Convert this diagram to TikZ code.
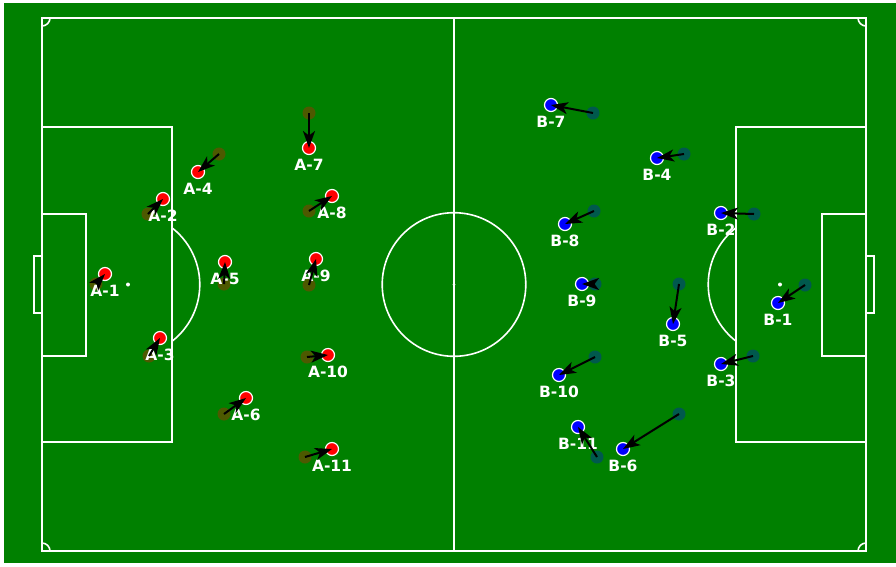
\documentclass[tikz,border=0pt]{standalone}
\usepackage{fontspec}
\setmainfont{DejaVu Sans}
\usetikzlibrary{positioning,arrows.meta}
\definecolor{cesped}{RGB}{0,128,0}

\begin{document}
\begin{tikzpicture}[
  x=1pt, y=-1pt,
  linea/.style={white, line width=1.6pt},
  jugA/.style={circle, fill=red, draw=white, line width=1.2pt, minimum size=13pt, inner sep=0pt},
  jugB/.style={jugA, fill=blue},
  prevA/.style={circle, fill=red, fill opacity=0.3, minimum size=13pt, inner sep=0pt},
  prevB/.style={prevA, fill=blue},
  move/.style={-{Stealth[length=17pt,width=12pt,inset=4.5pt]}, line width=2pt, black},
  etiq/.style={text=white, font=\fontsize{15.5}{17}\selectfont\bfseries, inner sep=0pt, outer sep=0pt}
]

\useasboundingbox (0,0) rectangle (896,566);

% Cesped
\fill[cesped] (4,3) rectangle (896,563);

% Lineas del campo
\draw[linea] (42,18) rectangle (866,551);
\draw[linea] (454,18) -- (454,551);
\draw[linea] (454,284.5) circle[radius=71.8];
\fill[white] (454,284.5) circle[radius=1.5];

% Area izquierda
\draw[linea] (42,127) rectangle (172,442);
\draw[linea] (42,214) rectangle (86,356);
\draw[linea] (42,256) -- (34,256) -- (34,313) -- (42,313);
\fill[white] (128,284.5) circle[radius=2];
\draw[linea] (172,227.8) arc[start angle=-52.2, end angle=52.2, radius=71.8];

% Area derecha
\draw[linea] (736,127) rectangle (866,442);
\draw[linea] (822,214) rectangle (866,356);
\draw[linea] (866,256) -- (874,256) -- (874,313) -- (866,313);
\fill[white] (780,284.5) circle[radius=2];
\draw[linea] (736,341.2) arc[start angle=127.8, end angle=232.2, radius=71.8];

% Esquinas
\draw[linea] (50,18) arc[start angle=0, end angle=90, radius=8];
\draw[linea] (866,26) arc[start angle=90, end angle=180, radius=8];
\draw[linea] (858,551) arc[start angle=180, end angle=270, radius=8];
\draw[linea] (42,543) arc[start angle=270, end angle=360, radius=8];

% Equipo A: posicion anterior
\node[prevA] (a1o) at (96,284) {};
\node[prevA] (a2o) at (148,214) {};
\node[prevA] (a3o) at (149,356) {};
\node[prevA] (a4o) at (219,154) {};
\node[prevA] (a5o) at (224,284) {};
\node[prevA] (a6o) at (224,414) {};
\node[prevA] (a7o) at (309,113) {};
\node[prevA] (a8o) at (309,211) {};
\node[prevA] (a9o) at (309,285) {};
\node[prevA] (a10o) at (307,357) {};
\node[prevA] (a11o) at (305,457) {};

% Equipo B: posicion anterior
\node[prevB] (b1o) at (805,285) {};
\node[prevB] (b2o) at (754,214) {};
\node[prevB] (b3o) at (753,356) {};
\node[prevB] (b4o) at (684,154) {};
\node[prevB] (b5o) at (679,284) {};
\node[prevB] (b6o) at (679,414) {};
\node[prevB] (b7o) at (593,113) {};
\node[prevB] (b8o) at (594,211) {};
\node[prevB] (b9o) at (595,284) {};
\node[prevB] (b10o) at (595,357) {};
\node[prevB] (b11o) at (597,457) {};

% Equipo A: posicion actual
\node[jugA] (a1) at (105,274) {};
\node[jugA] (a2) at (163,199) {};
\node[jugA] (a3) at (160,338) {};
\node[jugA] (a4) at (198,172) {};
\node[jugA] (a5) at (225,262) {};
\node[jugA] (a6) at (246,398) {};
\node[jugA] (a7) at (309,148) {};
\node[jugA] (a8) at (332,196) {};
\node[jugA] (a9) at (316,259) {};
\node[jugA] (a10) at (328,355) {};
\node[jugA] (a11) at (332,449) {};

% Equipo B: posicion actual
\node[jugB] (b1) at (778,303) {};
\node[jugB] (b2) at (721,213) {};
\node[jugB] (b3) at (721,364) {};
\node[jugB] (b4) at (657,158) {};
\node[jugB] (b5) at (673,324) {};
\node[jugB] (b6) at (623,449) {};
\node[jugB] (b7) at (551,105) {};
\node[jugB] (b8) at (565,224) {};
\node[jugB] (b9) at (582,284) {};
\node[jugB] (b10) at (559,375) {};
\node[jugB] (b11) at (578,427) {};

% Etiquetas
\node[etiq, below=4pt of a1] (a1l) {A-1};
\node[etiq, below=4pt of a2] (a2l) {A-2};
\node[etiq, below=4pt of a3] (a3l) {A-3};
\node[etiq, below=4pt of a4] (a4l) {A-4};
\node[etiq, below=4pt of a5] (a5l) {A-5};
\node[etiq, below=4pt of a6] (a6l) {A-6};
\node[etiq, below=4pt of a7] (a7l) {A-7};
\node[etiq, below=4pt of a8] (a8l) {A-8};
\node[etiq, below=4pt of a9] (a9l) {A-9};
\node[etiq, below=4pt of a10] (a10l) {A-10};
\node[etiq, below=4pt of a11] (a11l) {A-11};
\node[etiq, below=4pt of b1] (b1l) {B-1};
\node[etiq, below=4pt of b2] (b2l) {B-2};
\node[etiq, below=4pt of b3] (b3l) {B-3};
\node[etiq, below=4pt of b4] (b4l) {B-4};
\node[etiq, below=4pt of b5] (b5l) {B-5};
\node[etiq, below=4pt of b6] (b6l) {B-6};
\node[etiq, below=4pt of b7] (b7l) {B-7};
\node[etiq, below=4pt of b8] (b8l) {B-8};
\node[etiq, below=4pt of b9] (b9l) {B-9};
\node[etiq, below=4pt of b10] (b10l) {B-10};
\node[etiq, below=4pt of b11] (b11l) {B-11};

% Flechas
\draw[move] (a1o.center) -- (a1.center);
\draw[move] (a2o.center) -- (a2.center);
\draw[move] (a3o.center) -- (a3.center);
\draw[move] (a4o.center) -- (a4.center);
\draw[move] (a5o.center) -- (a5.center);
\draw[move] (a6o.center) -- (a6.center);
\draw[move] (a7o.center) -- (a7.center);
\draw[move] (a8o.center) -- (a8.center);
\draw[move] (a9o.center) -- (a9.center);
\draw[move] (a10o.center) -- (a10.center);
\draw[move] (a11o.center) -- (a11.center);
\draw[move] (b1o.center) -- (b1.center);
\draw[move] (b2o.center) -- (b2.center);
\draw[move] (b3o.center) -- (b3.center);
\draw[move] (b4o.center) -- (b4.center);
\draw[move] (b5o.center) -- (b5.center);
\draw[move] (b6o.center) -- (b6.center);
\draw[move] (b7o.center) -- (b7.center);
\draw[move] (b8o.center) -- (b8.center);
\draw[move] (b9o.center) -- (b9.center);
\draw[move] (b10o.center) -- (b10.center);
\draw[move] (b11o.center) -- (b11.center);

\end{tikzpicture}
\end{document}
